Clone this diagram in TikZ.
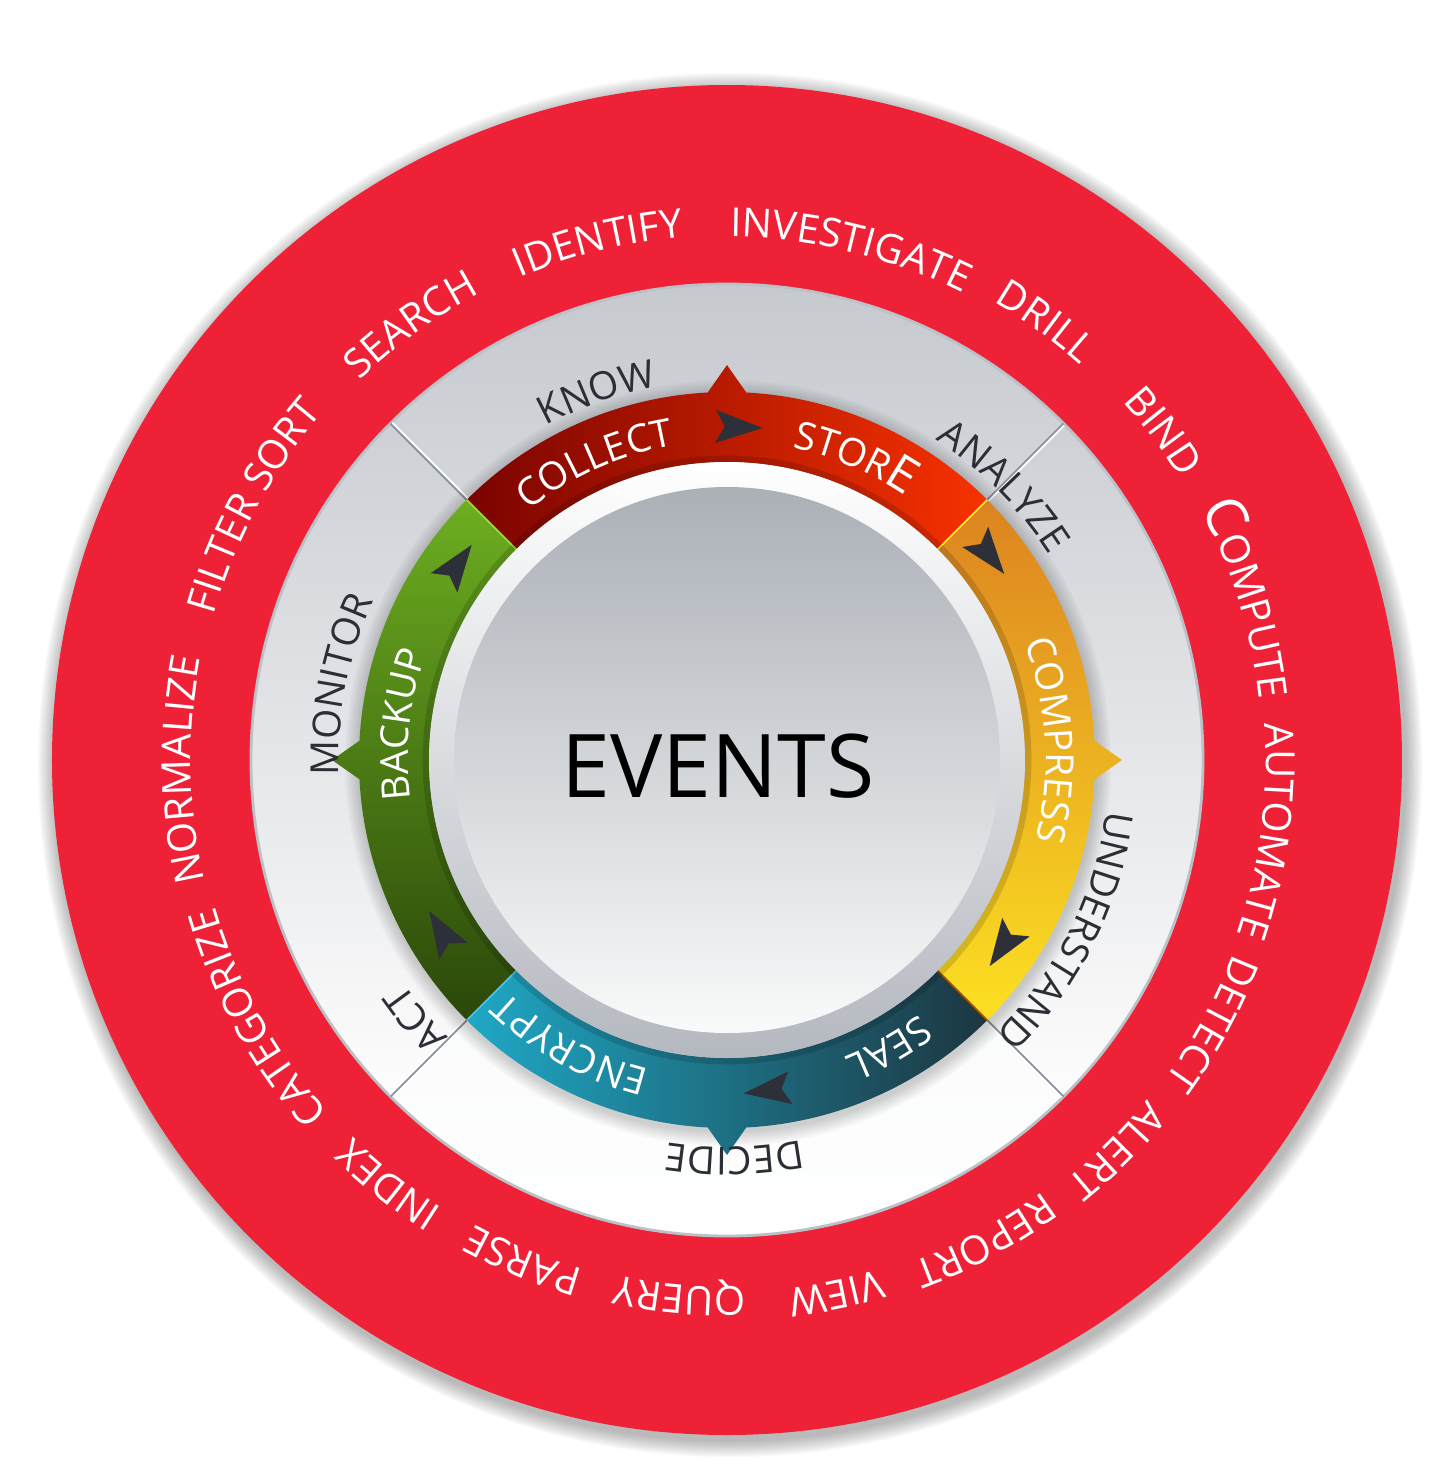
\documentclass[tikz,border=0pt]{standalone}
\usepackage{fontspec}
\setmainfont{Open Sans}
\usetikzlibrary{decorations.text}
\definecolor{redring}{HTML}{EE2137}
\definecolor{gq1}{HTML}{C3C7CC}
\definecolor{gq2}{HTML}{E4E6E9}
\definecolor{gs1}{HTML}{CDD0D5}
\definecolor{gs2}{HTML}{FDFDFD}
\definecolor{gb1}{HTML}{F7F8F9}
\definecolor{edgecol}{HTML}{BCC1C7}
\definecolor{divcol}{HTML}{8E949C}
\definecolor{redA}{HTML}{7A0300}
\definecolor{redB}{HTML}{F83200}
\definecolor{orgA}{HTML}{DC8320}
\definecolor{yelB}{HTML}{FCE022}
\definecolor{tealA}{HTML}{1FA8C6}
\definecolor{tealB}{HTML}{1C3640}
\definecolor{grnA}{HTML}{6DAE21}
\definecolor{grnB}{HTML}{2A4709}
\definecolor{bevB}{HTML}{B4B8BF}
\definecolor{btnA}{HTML}{ABB0B7}
\definecolor{btnB}{HTML}{F9FAFA}
\definecolor{arrowcol}{HTML}{2D3038}
\definecolor{labcol}{HTML}{2B2E35}
\newcommand{\ofnt}{\fontsize{11.4}{13}\selectfont}
\newcommand{\rfnt}{\fontsize{11}{13}\selectfont}
\newcommand{\gfnt}{\fontsize{11}{13}\selectfont}
\newcommand{\bigE}{\fontsize{14}{16}\selectfont}
\newcommand{\bigC}{\fontsize{16}{18}\selectfont}
\def\Ro{3.68}
\def\Ri{2.98}
\def\Rt{3.95}
\newcommand{\segpath}[1]{(#1-45:\Ro) arc[start angle=#1-45, end angle=#1-3, radius=\Ro] -- (#1:\Rt) -- (#1+3:\Ro) arc[start angle=#1+3, end angle=#1+45, radius=\Ro] -- (#1+45:\Ri) arc[start angle=#1+45, end angle=#1-45, radius=\Ri] -- cycle}
\newcommand{\curvetext}[5]{%
  \path[decorate, decoration={text along path, text align=center, text color=#4, text={|#3|#5}}]
    ({#1+40}:#2) arc[start angle={#1+40}, end angle={#1-40}, radius=#2];}
\newcommand{\darr}[1]{%
  \begin{scope}[shift={(#1:3.33)}, rotate=#1-90]
    \fill[arrowcol] (0.24,0) -- (-0.23,0.165) -- (-0.14,0) -- (-0.23,-0.165) -- cycle;
  \end{scope}}
\begin{document}
\begin{tikzpicture}
\useasboundingbox (-7.27,-7.17) rectangle (7.22,7.60);
% outer shadow + red disc
\foreach \i in {0,...,9} \fill[black,opacity=0.03] (0.03,-0.05) circle ({6.92-0.017*\i});
\fill[redring] (0,0) circle (6.75);
% gray ring quadrants
\shade[top color=gq1, bottom color=gq2] (0,0) -- (45:4.76) arc[start angle=45,end angle=135,radius=4.76] -- cycle;
\shade[top color=gs1, bottom color=gs2] (0,0) -- (135:4.76) arc[start angle=135,end angle=225,radius=4.76] -- cycle;
\shade[top color=gs1, bottom color=gs2] (0,0) -- (-45:4.76) arc[start angle=-45,end angle=45,radius=4.76] -- cycle;
\shade[top color=gb1, bottom color=white] (0,0) -- (225:4.76) arc[start angle=225,end angle=315,radius=4.76] -- cycle;
\draw[edgecol, line width=0.8pt] (0,0) circle (4.76);
% dividers
\foreach \a in {45,135,225,315} {
  \draw[divcol, line width=0.6pt] (\a:3.6) -- (\a:4.76);
  \draw[white, line width=0.5pt] ([shift={(\a-90:0.018)}]\a:3.6) -- ([shift={(\a-90:0.018)}]\a:4.75);
}
% shadow of coloured ring
\foreach \i in {0,...,7} \fill[black,opacity=0.025] (0.01,-0.03) circle ({\Ro+0.15-0.019*\i});
% coloured segments
\shade[left color=redA, right color=redB] \segpath{90};
\shade[top color=orgA, bottom color=yelB] \segpath{0};
\shade[left color=tealA, right color=tealB] \segpath{-90};
\shade[top color=grnA, bottom color=grnB] \segpath{180};
\draw[yellow!60!green!90!white, line width=0.5pt] (135:\Ri) -- (135:\Ro);
\draw[yellow!80!white, line width=0.5pt] (45:\Ri) -- (45:\Ro);
\draw[orange!60!black, line width=0.5pt] (-45:\Ri) -- (-45:\Ro);
\draw[cyan!70!white, line width=0.5pt] (225:\Ri) -- (225:\Ro);
\draw[black, opacity=0.14, line width=2.5pt] (0,0) circle (3.0);
% centre button
\shade[top color=white, bottom color=bevB] (0,0) circle (\Ri);
\shade[top color=btnA, bottom color=btnB] (0,0) circle (2.73);
% dark arrows
\darr{88}
\darr{38}
\darr{-34}
\darr{-83}
\darr{144}
\darr{211}
% labels on coloured ring
\curvetext{114}{3.19}{\rfnt}{white}{COLLECT}
\curvetext{67}{3.19}{\rfnt}{white}{STOR|\bigE|E}
\curvetext{3.5}{3.19}{\rfnt}{white}{COMPRESS}
\curvetext{-60.7}{3.19}{\rfnt}{white}{SEAL}
\curvetext{241.2}{3.19}{\rfnt}{white}{ENCRYPT}
\curvetext{173.8}{3.19}{\rfnt}{white}{BACKUP}
% labels on gray ring
\curvetext{109.5}{3.80}{\gfnt}{labcol}{KNOW}
\curvetext{44.7}{3.82}{\gfnt}{labcol}{ANALYZE}
\curvetext{-26.6}{3.83}{\gfnt}{labcol}{UNDERSTAND}
\curvetext{-88.9}{3.87}{\gfnt}{labcol}{DECIDE}
\curvetext{219.8}{3.93}{\gfnt}{labcol}{ACT}
\curvetext{169}{3.88}{\gfnt}{labcol}{MONITOR}
% labels on red ring
\curvetext{181}{5.36}{\ofnt}{white}{NORMALIZE}
\curvetext{151.8}{5.33}{\ofnt}{white}{FILTER SORT}
\curvetext{126}{5.28}{\ofnt}{white}{SEARCH}
\curvetext{104}{5.25}{\ofnt}{white}{IDENTIFY}
\curvetext{76.4}{5.23}{\ofnt}{white}{INVESTIGATE}
\curvetext{54}{5.30}{\ofnt}{white}{DRILL}
\curvetext{37}{5.34}{\ofnt}{white}{BIND}
\curvetext{17.2}{5.36}{\bigC}{white}{C|\ofnt|OMPUTE}
\curvetext{-7.5}{5.39}{\ofnt}{white}{AUTOMATE}
\curvetext{-28.5}{5.42}{\ofnt}{white}{DETECT}
\curvetext{-45}{5.40}{\ofnt}{white}{ALERT}
\curvetext{-61.8}{5.35}{\ofnt}{white}{REPORT}
\curvetext{-78.4}{5.32}{\ofnt}{white}{VIEW}
\curvetext{-95}{5.27}{\ofnt}{white}{QUERY}
\curvetext{-112.2}{5.29}{\ofnt}{white}{PARSE}
\curvetext{231.4}{5.31}{\ofnt}{white}{INDEX}
\curvetext{208.7}{5.32}{\ofnt}{white}{CATEGORIZE}
% centre text
\node[font=\fontsize{25}{30}\selectfont, text=black, inner sep=0pt] (events) at (-0.09,-0.06) {EVENTS};
\end{tikzpicture}
\end{document}
